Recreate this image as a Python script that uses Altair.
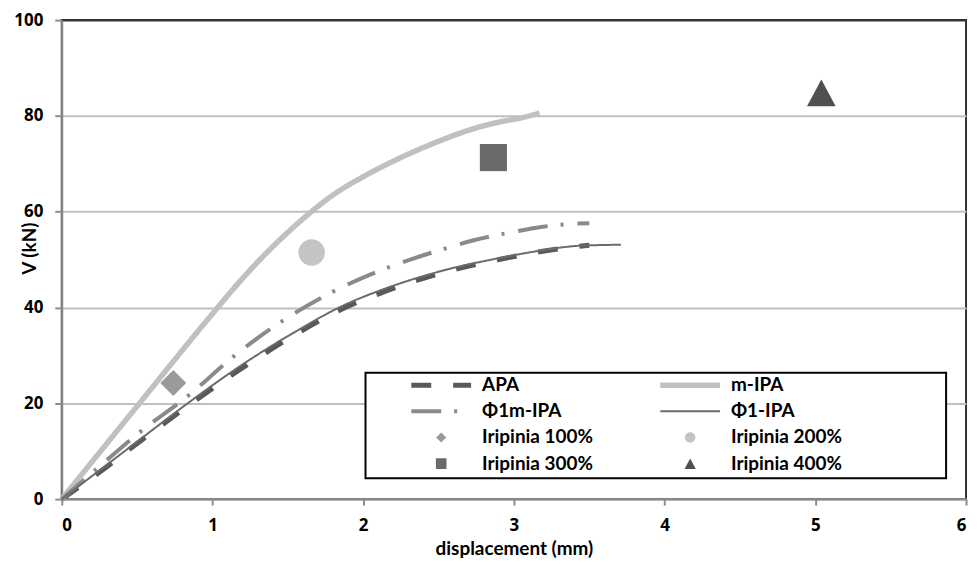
import altair as alt
import pandas as pd

# ---- data ----
series_names = ["APA", "m-IPA", "Φ1m-IPA", "Φ1-IPA",
                "Iripinia 100%", "Iripinia 200%", "Iripinia 300%", "Iripinia 400%"]

apa_x = [0, 0.25, 0.5, 0.87, 1.18, 1.574, 1.86, 2.124, 2.34, 2.565, 2.9, 3.16, 3.5]
apa_y = [0, 5.6, 11.6, 20.2, 27.0, 34.8, 39.7, 43.1, 45.5, 47.6, 50.0, 51.6, 53.0]

m_ipa_x = [0, 0.5, 1.0, 1.2, 1.4, 1.6, 1.8, 2.0, 2.25, 2.5, 2.75, 2.9, 3.05, 3.17]
m_ipa_y = [0, 19.4, 38.7, 46.1, 52.7, 58.5, 63.5, 67.3, 71.3, 74.7, 77.5, 78.7, 79.6, 80.6]

phi1m_x = [0, 0.25, 0.515, 0.836, 1.145, 1.464, 1.805, 2.169, 2.543, 2.74, 3.0, 3.18, 3.35, 3.5]
phi1m_y = [0, 6.8, 13.9, 21.5, 29.9, 37.2, 43.4, 48.4, 52.3, 54.1, 55.8, 56.8, 57.4, 57.6]

phi1_x = [0, 0.25, 0.5, 0.87, 1.18, 1.574, 1.86, 2.124, 2.34, 2.565, 2.9, 3.16, 3.44, 3.71]
phi1_y = [0, 6.0, 12.0, 20.8, 27.7, 35.4, 40.3, 43.7, 46.0, 48.0, 50.3, 51.8, 52.9, 53.1]

iripinia_names = ["Iripinia 100%", "Iripinia 200%", "Iripinia 300%", "Iripinia 400%"]
iripinia_x = [0.74, 1.658, 2.864, 5.04]
iripinia_y = [24.25, 51.5, 71.3, 84.8]

x_ticks = [0, 1, 2, 3, 4, 5, 6]
y_ticks = [0, 20, 40, 60, 80, 100]

# ---- styles ----
colors = ["#595959", "#c0c0c0", "#8a8a8a", "#6b6b6b",
          "#9a9a9a", "#c4c4c4", "#6a6a6a", "#505050"]
dashes = [[20, 22], [1, 0], [30, 13, 3, 14], [1, 0], [1, 0], [1, 0], [1, 0], [1, 0]]
widths = [5, 5.5, 4, 2, 0, 0, 0, 0]
shapes = [
    "stroke", "stroke", "stroke", "stroke",
    "M0,-0.17L0.17,0L0,0.17L-0.17,0Z",
    "M0.1745,0A0.1745,0.1745,0,1,1,-0.1745,0A0.1745,0.1745,0,1,1,0.1745,0Z",
    "M-0.178,-0.178H0.178V0.178H-0.178Z",
    "M0,-0.176L0.188,0.176L-0.188,0.176Z",
]

rows = []
for name, xs, ys in [("APA", apa_x, apa_y), ("m-IPA", m_ipa_x, m_ipa_y),
                     ("Φ1m-IPA", phi1m_x, phi1m_y), ("Φ1-IPA", phi1_x, phi1_y)]:
    for i, (xv, yv) in enumerate(zip(xs, ys)):
        rows.append({"series": name, "x": xv, "y": yv, "i": i})
lines_df = pd.DataFrame(rows)
points_df = pd.DataFrame({"series": iripinia_names, "x": iripinia_x, "y": iripinia_y})

FONT = "Lato"
TICK_FONT = "Open Sans"
right_col = "['m-IPA','Φ1-IPA','Iripinia 200%','Iripinia 400%']"
pad_right = "\u2003" * 7 + "\u200b"
legend = alt.Legend(
    title=None, orient="none", legendX=305, legendY=354, columns=2, direction="horizontal",
    columnPadding=25, rowPadding=6.3, clipHeight=17, symbolSize=3600,
    symbolOffset=39, labelOffset=8, labelFont=FONT, labelFontWeight="bold",
    labelFontSize=19, labelColor="black", padding=4, labelLimit=400,
    labelExpr=f"indexof({right_col}, datum.label) >= 0 ? datum.label + '{pad_right}' : datum.label",
)

xscale = alt.Scale(domain=[0, 6], nice=False, zero=False)
yscale = alt.Scale(domain=[0, 100], nice=False)

xaxis = alt.Axis(values=x_ticks, grid=False, title="displacement (mm)", format="d",
                 tickSize=6, tickWidth=2, tickColor="#8c8c8c", domainColor="#8c8c8c",
                 domainWidth=2, labelFont=TICK_FONT, labelFontWeight="bold", labelFontSize=17,
                 labelColor="black", labelPadding=13, titleFont=FONT, titleFontWeight="bold",
                 titleFontSize=19, titleColor="black", titleY=50, titleBaseline="middle")
yaxis = alt.Axis(values=y_ticks, grid=True, title="V (kN)", format="d",
                 gridColor=alt.condition("datum.value >= 100", alt.value("#333333"), alt.value("#bfbfbf")),
                 gridWidth=2, tickSize=7, tickWidth=2, tickColor="#8c8c8c",
                 domainColor="#8c8c8c", domainWidth=2, labelFont=TICK_FONT, labelFontWeight="bold",
                 labelFontSize=17, labelColor="black", labelPadding=12, titleFont=FONT,
                 titleFontWeight="bold", titleFontSize=19, titleColor="black",
                 titleX=-32, titleY=229, titleAngle=270, titleBaseline="middle", titleAlign="center")

color_enc = alt.Color("series:N", scale=alt.Scale(domain=series_names, range=colors), legend=legend)

lines = alt.Chart(lines_df).mark_line(interpolate="monotone", strokeCap="butt").encode(
    x=alt.X("x:Q", scale=xscale, axis=xaxis),
    y=alt.Y("y:Q", scale=yscale, axis=yaxis),
    order="i:Q",
    color=color_enc,
    strokeDash=alt.StrokeDash("series:N", scale=alt.Scale(domain=series_names, range=dashes), legend=legend),
    strokeWidth=alt.StrokeWidth("series:N", scale=alt.Scale(type="ordinal", domain=series_names, range=widths), legend=legend),
)

points = alt.Chart(points_df).mark_point(filled=True, size=23409, opacity=1).encode(
    x=alt.X("x:Q", scale=xscale, axis=xaxis),
    y=alt.Y("y:Q", scale=yscale, axis=yaxis),
    color=color_enc,
    shape=alt.Shape("series:N", scale=alt.Scale(domain=series_names, range=shapes), legend=legend),
)

chart = alt.layer(lines, points).properties(
    width=908, height=481, autosize="none",
    padding={"left": 54, "top": 11, "right": 5, "bottom": 62},
    background="white",
).configure_view(stroke="#333333", strokeWidth=2).configure_legend(
    strokeColor="black", strokeWidth=2, fillColor="white"
)

chart.save("out.html", embed_options={"renderer": "svg", "actions": False})
